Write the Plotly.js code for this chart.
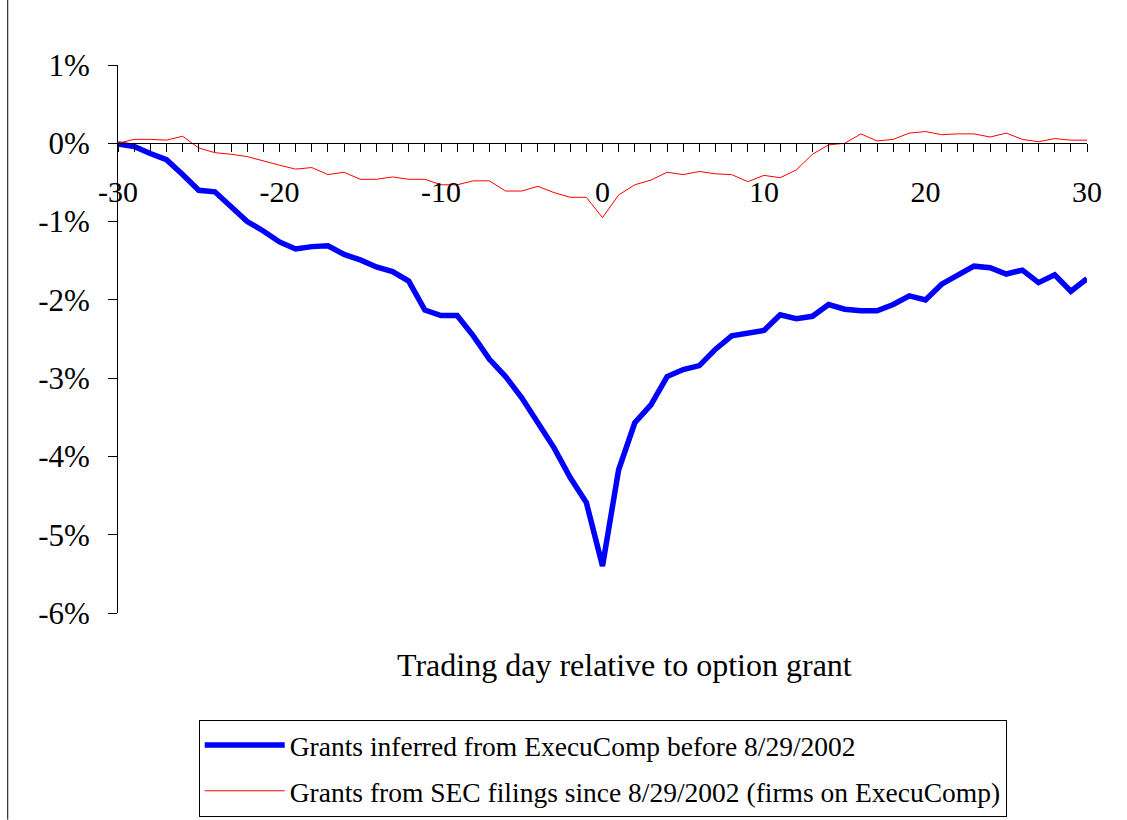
<!DOCTYPE html>
<html>
<head>
<meta charset="utf-8">
<script src="https://cdn.plot.ly/plotly-3.0.1.min.js"></script>
<style>html,body{margin:0;padding:0;background:#fff;}#chart{width:1127px;height:820px;}</style>
</head>
<body>
<div id="chart"></div>
<script>
const days = [];
for (let d = -30; d <= 30; d++) days.push(d);

const execuCompBefore = [
  -0.01, -0.04, -0.13, -0.21, -0.40, -0.60, -0.62, -0.81, -1.00, -1.12,
  -1.26, -1.35, -1.32, -1.31, -1.42, -1.49, -1.58, -1.64, -1.76, -2.13,
  -2.20, -2.20, -2.46, -2.76, -2.98, -3.25, -3.58, -3.89, -4.27, -4.59,
  -5.40,
  -4.17, -3.57, -3.34, -2.98, -2.89, -2.84, -2.63, -2.46, -2.42, -2.39,
  -2.19, -2.24, -2.21, -2.06, -2.12, -2.14, -2.14, -2.06, -1.95, -2.00,
  -1.80, -1.68, -1.57, -1.59, -1.67, -1.62, -1.78, -1.68, -1.89, -1.73
];

const secSince = [
  0.00, 0.05, 0.05, 0.04, 0.09, -0.06, -0.12, -0.14, -0.17, -0.23,
  -0.28, -0.33, -0.31, -0.40, -0.37, -0.46, -0.46, -0.43, -0.46, -0.46,
  -0.53, -0.53, -0.48, -0.48, -0.61, -0.61, -0.55, -0.63, -0.69, -0.69,
  -0.95,
  -0.66, -0.53, -0.47, -0.37, -0.40, -0.36, -0.39, -0.40, -0.49, -0.41,
  -0.44, -0.34, -0.14, -0.02, 0.00, 0.12, 0.03, 0.05, 0.13, 0.15,
  0.11, 0.12, 0.12, 0.08, 0.13, 0.05, 0.02, 0.06, 0.04, 0.04
];

const seriesNames = [
  "Grants inferred from ExecuComp before 8/29/2002",
  "Grants from SEC filings since 8/29/2002 (firms on ExecuComp)"
];

const xTickVals = [-30, -20, -10, 0, 10, 20, 30];
const xTickText = ["-30", "-20", "-10", "0", "10", "20", "30"];
const yTickVals = [-6, -5, -4, -3, -2, -1, 0, 1];
const yTickText = ["-6%", "-5%", "-4%", "-3%", "-2%", "-1%", "0%", "1%"];
const xTitle = "Trading day relative to option grant";

const serif = "Liberation Serif";

const traces = [
  {x: days, y: execuCompBefore, name: seriesNames[0], type: "scatter", mode: "lines",
   legendgroup: "a", line: {color: "#0000ff", width: 5.5}},
  {x: days, y: secSince, name: seriesNames[1], type: "scatter", mode: "lines",
   legendgroup: "b", line: {color: "#ff0000", width: 1}}
];

const yMin = -6, yMax = 1;
const layout = {
  width: 1127, height: 820,
  margin: {l: 118, r: 40, t: 65, b: 207, pad: 0, autoexpand: false},
  paper_bgcolor: "#fff", plot_bgcolor: "#fff",
  font: {family: serif, color: "#000", size: 29},
  showlegend: true,
  xaxis: {
    range: [-30, 30], anchor: "free", position: (0 - yMin) / (yMax - yMin),
    showline: true, linecolor: "#000", linewidth: 1, mirror: false,
    showgrid: false, zeroline: false, automargin: false,
    tickmode: "array", tickvals: xTickVals, ticktext: xTickText,
    ticks: "outside", ticklen: 8, tickwidth: 1, tickcolor: "#000",
    ticklabelstandoff: 14,
    tickfont: {family: serif, size: 30, color: "#000"},
    minor: {tickmode: "linear", tick0: -30, dtick: 1, ticks: "outside", ticklen: 8, tickwidth: 1, tickcolor: "#000", showgrid: false}
  },
  yaxis: {
    range: [yMin, yMax],
    showline: true, linecolor: "#000", linewidth: 1,
    showgrid: false, zeroline: false, automargin: false,
    tickmode: "array", tickvals: yTickVals, ticktext: yTickText,
    ticks: "outside", ticklen: 9, tickwidth: 1, tickcolor: "#000",
    ticklabelstandoff: 12,
    tickfont: {family: serif, size: 31, color: "#000"}
  },
  legend: {
    x: 0.0833, y: -0.1946, xanchor: "left", yanchor: "top",
    bordercolor: "#000", borderwidth: 1, bgcolor: "#fff",
    font: {family: serif, size: 27.5, color: "#000"},
    itemwidth: 80,
    tracegroupgap: 7
  },
  annotations: [{
    text: xTitle, xref: "paper", yref: "paper",
    x: 0.5224, y: -0.0943, xanchor: "center", yanchor: "middle",
    showarrow: false, font: {family: serif, size: 32, color: "#000"}
  }],
  shapes: [{
    type: "line", xref: "paper", yref: "paper",
    x0: -0.1138, x1: -0.1138, y0: -0.377, y1: 1.1186,
    line: {color: "#000", width: 1}
  }]
};

Plotly.newPlot("chart", traces, layout, {displayModeBar: false, staticPlot: true});
</script>
</body>
</html>
